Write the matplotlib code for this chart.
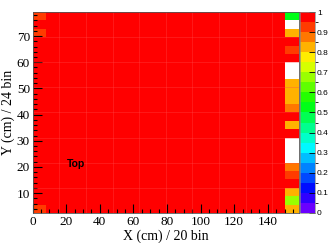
import numpy as np
import matplotlib
matplotlib.use("Agg")
import matplotlib.pyplot as plt
from matplotlib.colors import ListedColormap, BoundaryNorm, hsv_to_rgb

# histogram binning: 20 x bins, 24 y bins
x_lo, x_hi, nx = 0.0, 158.4, 20
y_lo, y_hi, ny = 2.4, 79.2, 24

# y bins listed bottom -> top, nan = empty bin (not drawn)
nan = np.nan
col_first = [0.92, 1, 1, 1, 1, 1, 1, 1, 1, 1, 1, 1,
             1, 1, 1, 1, 1, 1, 1, 1, 1, 0.92, 1, 0.92]
col_mid = [1, 1, 1, 1, 1, 1, 1, 1, 1, 1, 1, 1,
           1, 1, 1, 1, 1, 1, 1, 1, 1, 1, 1, 1]
col_last = [0.82, 0.67, 0.82, 1, 0.92, 0.87, nan, nan, nan, 1, 0.82, 1,
            0.87, 0.82, 0.82, 0.82, nan, nan, 1, 0.92, 1, 0.82, nan, 0.52]

cols = [col_first] + [col_mid] * (nx - 2) + [col_last]
z = np.array(cols, dtype=float).T  # shape (ny, nx)

xe = np.linspace(x_lo, x_hi, nx + 1)
ye = np.linspace(y_lo, y_hi, ny + 1)

# ROOT-like rainbow palette with 20 contour levels
hues = np.linspace(265, 0, 20) / 360.0
pal = hsv_to_rgb(np.column_stack([hues, np.ones(20), np.ones(20)]))
cmap = ListedColormap(pal)
cmap.set_bad("white")
levels = np.linspace(0, 1, 21)
norm = BoundaryNorm(levels, cmap.N)

fig = plt.figure(figsize=(3.32, 2.43), dpi=100)
ax = fig.add_axes([0.0985, 0.1235, 0.8012, 0.8271])
cax = fig.add_axes([0.9036, 0.1235, 0.0452, 0.8271])

mesh = ax.pcolormesh(xe, ye, np.ma.masked_invalid(z), cmap=cmap, norm=norm,
                     edgecolors="face", linewidth=0)
# faint cell-boundary lines like in the original render
for xv in xe[2:-1:2]:
    ax.axvline(xv, color="#ff4a4a", lw=0.4, alpha=0.6)
for yv in ye[3:-1:3]:
    ax.axhline(yv, color="#ff4a4a", lw=0.4, alpha=0.6)
ax.set_xlim(x_lo, x_hi)
ax.set_ylim(y_lo, y_hi)

serif = "Liberation Serif"
ax.set_xticks(np.arange(0, 141, 20))
ax.set_xticks(np.arange(0, 158, 5), minor=True)
ax.set_yticks(np.arange(10, 71, 10))
ax.set_yticks(np.arange(4, 79, 2), minor=True)
ax.tick_params(which="both", direction="in", top=False, right=False,
               color="black", width=0.8)
ax.tick_params(which="major", length=6.3, labelsize=9.5, pad=2)
ax.tick_params(which="minor", length=3)
for lab in ax.get_xticklabels() + ax.get_yticklabels():
    lab.set_fontfamily(serif)
for s in ax.spines.values():
    s.set_linewidth(0.6)
    s.set_color("#555555")

ax.set_xlabel("X (cm) / 20 bin", fontfamily=serif, fontsize=10, labelpad=1)
ax.set_ylabel("Y (cm) / 24 bin", fontfamily=serif, fontsize=10, labelpad=1)

ax.text(20.3, 21.0, "Top", fontfamily="Liberation Sans", fontweight="bold",
        fontsize=7.5, va="center", ha="left", color="black")

cb = fig.colorbar(mesh, cax=cax, ticks=np.linspace(0, 1, 11))
cb.outline.set_linewidth(0.5)
cb.outline.set_edgecolor("#888888")
cax.tick_params(direction="in", length=4.5, width=0.6, labelsize=6, pad=1.5)
cax.set_yticklabels(["0", "0.1", "0.2", "0.3", "0.4", "0.5", "0.6",
                     "0.7", "0.8", "0.9", "1"], fontfamily="Liberation Sans")

fig.savefig("out.png", dpi=100)
